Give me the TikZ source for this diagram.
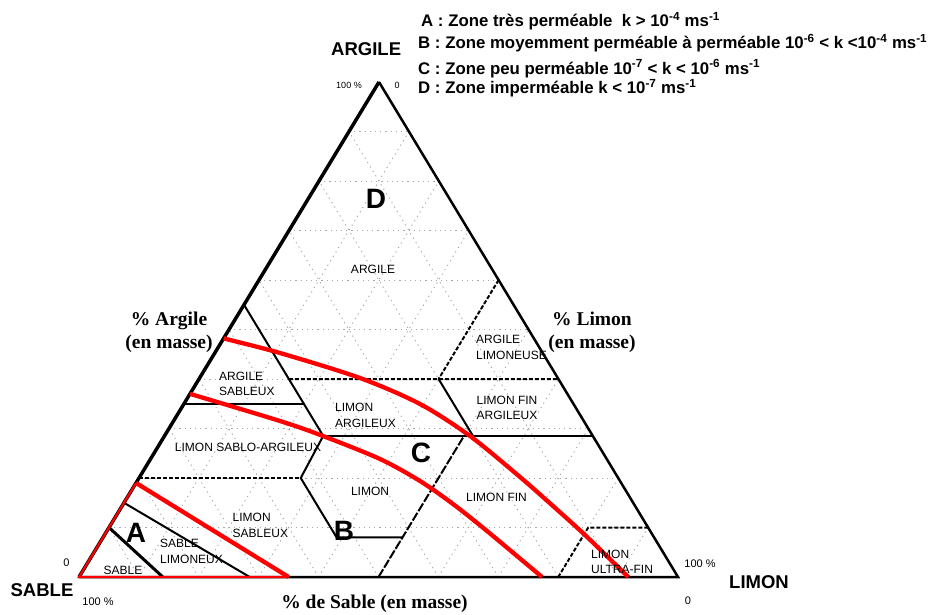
\documentclass[tikz,border=0pt]{standalone}
\usepackage{fontspec}
\setmainfont{Liberation Serif}
\setsansfont{Liberation Sans}
\begin{document}
\begin{tikzpicture}[x=1pt,y=-1pt,
  gridline/.style={gray!70,line width=0.9pt,dash pattern=on 1.2pt off 4pt},
  zone/.style={line width=2pt},
  zonedash/.style={zone,dash pattern=on 4pt off 2pt},
  redline/.style={red,line width=4.3pt},
  lbl/.style={font=\sffamily\fontsize{12}{15.5}\selectfont,inner sep=0pt,align=left},
  bigltr/.style={font=\sffamily\bfseries\fontsize{28}{28}\selectfont,inner sep=0pt},
  vertex/.style={font=\sffamily\bfseries\fontsize{18.5}{20}\selectfont,inner sep=0pt},
  axislbl/.style={font=\rmfamily\bfseries\fontsize{19.5}{23.5}\selectfont,align=center,inner sep=0pt},
  pct/.style={font=\sffamily\fontsize{11}{11}\selectfont,inner sep=0pt},
  legendtxt/.style={font=\sffamily\bfseries\fontsize{16.8}{18}\selectfont,anchor=base west,inner sep=0pt}]
  \useasboundingbox (0,0) rectangle (931,614);
  % corners: sable, limon, argile
  \coordinate (S) at (79,577);
  \coordinate (L) at (678,577);
  \coordinate (A) at (379,82);
  % 10 % grid
  \foreach \t/\u in {0.1/0.9,0.2/0.8,0.3/0.7,0.4/0.6,0.5/0.5,0.6/0.4,0.7/0.3,0.8/0.2,0.9/0.1}
    {
      \draw[gridline] (barycentric cs:A=\t,S=\u) -- (barycentric cs:A=\t,L=\u);
      \draw[gridline] (barycentric cs:L=\t,S=\u) -- (barycentric cs:L=\t,A=\u);
      \draw[gridline] (barycentric cs:S=\t,L=\u) -- (barycentric cs:S=\t,A=\u);
    }
  % class limits
  \coordinate (as1) at (barycentric cs:S=0.45,A=0.55);
  \coordinate (as2) at (barycentric cs:S=0.45,L=0.265,A=0.285);
  \coordinate (asb1) at (barycentric cs:S=0.65,A=0.35);
  \coordinate (asb2) at (barycentric cs:S=0.45,L=0.2,A=0.35);
  \coordinate (ar1) at (barycentric cs:S=0.45,L=0.15,A=0.4);
  \coordinate (ar2) at (barycentric cs:L=0.6,A=0.4);
  \coordinate (al1) at (barycentric cs:L=0.4,A=0.6);
  \coordinate (al2) at (barycentric cs:S=0.2,L=0.4,A=0.4);
  \coordinate (lfa) at (barycentric cs:S=0.2,L=0.515,A=0.285);
  \coordinate (la2) at (barycentric cs:L=0.715,A=0.285);
  \coordinate (lsa0) at (barycentric cs:S=0.8,A=0.2);
  \coordinate (lsa1) at (barycentric cs:S=0.53,L=0.27,A=0.2);
  \coordinate (ls1) at (barycentric cs:S=0.53,L=0.39,A=0.08);
  \coordinate (ls2) at (barycentric cs:S=0.42,L=0.5,A=0.08);
  \coordinate (lf0) at (barycentric cs:S=0.5,L=0.5);
  \coordinate (lf1) at (barycentric cs:S=0.215,L=0.5,A=0.285);
  \coordinate (luf0) at (barycentric cs:S=0.2,L=0.8);
  \coordinate (luf1) at (barycentric cs:S=0.1,L=0.8,A=0.1);
  \coordinate (luf2) at (barycentric cs:L=0.9,A=0.1);
  \coordinate (sb1) at (barycentric cs:S=0.9,A=0.1);
  \coordinate (sb2) at (barycentric cs:S=0.86,L=0.14);
  \coordinate (sl1) at (barycentric cs:S=0.85,A=0.15);
  \coordinate (sl2) at (barycentric cs:S=0.715,L=0.285);
  \draw[zone] (as1) -- (as2) -- (lsa1) -- (ls1) -- (ls2);
  \draw[zone,line width=2.6pt] (as2) -- (la2);
  \draw[zone] (asb1) -- (asb2);
  \draw[zonedash] (ar1) -- (ar2);
  \draw[zonedash] (al1) -- (al2);
  \draw[zone] (al2) -- (lfa);
  \draw[zonedash] (lsa0) -- (lsa1);
  \draw[zonedash,dash pattern=on 9pt off 2pt] (lf0) -- (lf1);
  \draw[zonedash] (luf0) -- (luf1) -- (luf2);
  \draw[zone,line width=3pt] (sb1) -- (sb2);
  \draw[zone] (sl1) -- (sl2);
  % sides
  \draw[line width=2.5pt] (A) -- (L) -- (S);
  \draw[line width=3.5pt] (S) -- (A);
  % permeability limits
  \coordinate (ra1) at (barycentric cs:S=0.81,A=0.19);
  \coordinate (ra2) at (barycentric cs:S=0.65,L=0.35);
  \coordinate (rb1) at (barycentric cs:S=0.63,A=0.37);
  \coordinate (rb2) at (barycentric cs:S=0.227,L=0.773);
  \coordinate (rc1) at (barycentric cs:S=0.518,A=0.482);
  \coordinate (rc2) at (barycentric cs:S=0.083,L=0.917);
  \draw[red,line width=2.2pt] (ra1) -- (S) -- (ra2);
  \draw[redline] (ra1) -- (ra2);
  \draw[redline] plot[smooth] coordinates {(rb1) (280,421) (323,436) (380,459) (420,481) (453,504) (487,531) (rb2)};
  \draw[redline] plot[smooth] coordinates {(rc1) (280,353) (360,378) (420,404) (470,436) (520,477) (553,506) (585,535) (rc2)};
  % class names
  \node[lbl] (argile) at (373,269) {ARGILE};
  \node[lbl,anchor=west] (argsab) at (219,384) {ARGILE\\SABLEUX};
  \node[lbl,anchor=west] (limarg) at (335,415.5) {LIMON\\ARGILEUX};
  \node[lbl] (limsa) at (248,447) {LIMON SABLO-ARGILEUX};
  \node[lbl] (limon) at (370,491) {LIMON};
  \node[lbl,anchor=west] (limsab) at (232.5,525.5) {LIMON\\SABLEUX};
  \node[lbl,anchor=west] (sablim) at (160,551.5) {SABLE\\LIMONEUX};
  \node[lbl] (sable) at (123,570) {SABLE};
  \node[lbl] (limfin) at (496.5,497.5) {LIMON FIN};
  \node[lbl,anchor=west] (limfa) at (476.5,408) {LIMON FIN\\ARGILEUX};
  \node[lbl,anchor=west] (arglim) at (476,347.5) {ARGILE\\LIMONEUSE};
  \node[lbl,anchor=west] (limuf) at (591,562) {LIMON\\ULTRA-FIN};
  % zones
  \node[bigltr] (zA) at (136,533) {A};
  \node[bigltr] (zB) at (344,531) {B};
  \node[bigltr] (zC) at (421,452.5) {C};
  \node[bigltr] (zD) at (376,199) {D};
  % corners and axes
  \node[vertex,anchor=base west] (nA) at (331,55) {ARGILE};
  \node[vertex] (nS) at (42,590) {SABLE};
  \node[vertex] (nL) at (759,582) {LIMON};
  \node[axislbl] (axA) at (169,332.5) {\% Argile\\(en masse)};
  \node[axislbl] (axL) at (592,332.5) {\% Limon\\(en masse)};
  \node[axislbl] (axS) at (374.5,604) {\% de Sable (en masse)};
  \node[pct,font=\sffamily\fontsize{9}{9}\selectfont] (pA1) at (349,85) {100 \%};
  \node[pct,font=\sffamily\fontsize{9}{9}\selectfont] (pA0) at (397,85) {0};
  \node[pct] (pS0) at (66.5,563) {0};
  \node[pct] (pS1) at (98,602) {100 \%};
  \node[pct] (pL1) at (700,564) {100 \%};
  \node[pct] (pL0) at (688,601) {0};
  % legend
  \node[legendtxt] (legA) at (421,26.7) {A : Zone très perméable\ \ k > 10\textsuperscript{-4} ms\textsuperscript{-1}};
  \node[legendtxt] (legB) at (418,48.3) {B : Zone moyemment perméable à perméable 10\textsuperscript{-6} < k <10\textsuperscript{-4} ms\textsuperscript{-1}};
  \node[legendtxt] (legC) at (418,74) {C : Zone peu perméable 10\textsuperscript{-7} < k < 10\textsuperscript{-6} ms\textsuperscript{-1}};
  \node[legendtxt] (legD) at (418,93.3) {D : Zone imperméable k < 10\textsuperscript{-7} ms\textsuperscript{-1}};
\end{tikzpicture}
\end{document}
